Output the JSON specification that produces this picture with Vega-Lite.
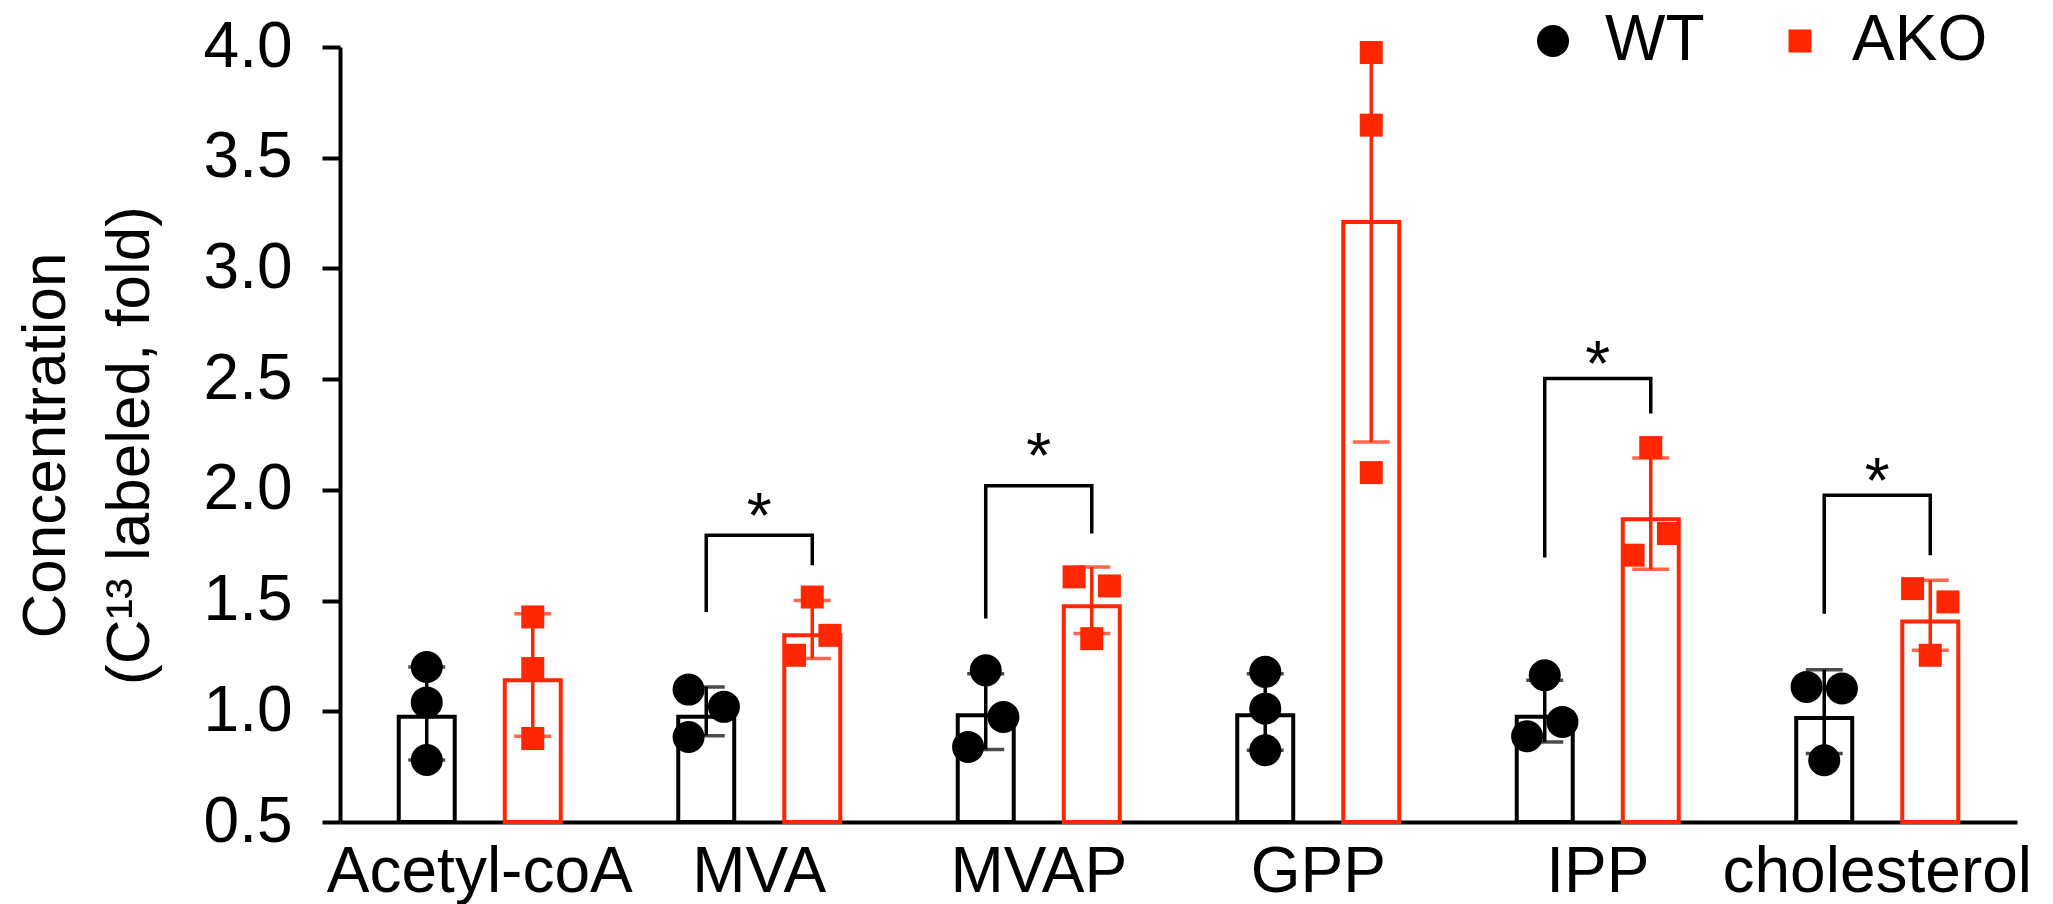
{
  "$schema": "https://vega.github.io/schema/vega-lite/v6.json",
  "autosize": {"type": "none"},
  "padding": {"left": 340, "top": 47, "right": 36, "bottom": 82},
  "width": 1677,
  "height": 775,
  "background": "white",
  "config": {
    "view": {"stroke": null},
    "font": "Liberation Sans",
    "axis": {"domainColor": "black", "tickColor": "black", "labelColor": "black", "titleColor": "black", "grid": false, "labelFont": "Liberation Sans", "titleFont": "Liberation Sans", "titleFontWeight": "normal"}
  },
  "datasets": {
    "bars": [
      {"cat": "Acetyl-coA", "grp": "WT", "mean": 0.975, "lo": 0.78, "hi": 1.2},
      {"cat": "Acetyl-coA", "grp": "AKO", "mean": 1.14, "lo": 0.887, "hi": 1.44},
      {"cat": "MVA", "grp": "WT", "mean": 0.975, "lo": 0.89, "hi": 1.11},
      {"cat": "MVA", "grp": "AKO", "mean": 1.343, "lo": 1.238, "hi": 1.5},
      {"cat": "MVAP", "grp": "WT", "mean": 0.982, "lo": 0.827, "hi": 1.17},
      {"cat": "MVAP", "grp": "AKO", "mean": 1.474, "lo": 1.351, "hi": 1.652},
      {"cat": "GPP", "grp": "WT", "mean": 0.982, "lo": 0.824, "hi": 1.17},
      {"cat": "GPP", "grp": "AKO", "mean": 3.21, "lo": 2.216, "hi": 4.21},
      {"cat": "IPP", "grp": "WT", "mean": 0.975, "lo": 0.861, "hi": 1.14},
      {"cat": "IPP", "grp": "AKO", "mean": 1.867, "lo": 1.641, "hi": 2.144},
      {"cat": "cholesterol", "grp": "WT", "mean": 0.97, "lo": 0.809, "hi": 1.188},
      {"cat": "cholesterol", "grp": "AKO", "mean": 1.406, "lo": 1.276, "hi": 1.592}
    ],
    "pts": [
      {"cat": "Acetyl-coA", "grp": "WT", "slot": "WT-C", "v": 1.2},
      {"cat": "Acetyl-coA", "grp": "WT", "slot": "WT-C", "v": 1.04},
      {"cat": "Acetyl-coA", "grp": "WT", "slot": "WT-C", "v": 0.78},
      {"cat": "Acetyl-coA", "grp": "AKO", "slot": "AKO-C", "v": 1.426},
      {"cat": "Acetyl-coA", "grp": "AKO", "slot": "AKO-C", "v": 1.193},
      {"cat": "Acetyl-coA", "grp": "AKO", "slot": "AKO-C", "v": 0.877},
      {"cat": "MVA", "grp": "WT", "slot": "WT-L", "v": 1.098},
      {"cat": "MVA", "grp": "WT", "slot": "WT-R", "v": 1.02},
      {"cat": "MVA", "grp": "WT", "slot": "WT-L", "v": 0.884},
      {"cat": "MVA", "grp": "AKO", "slot": "AKO-C", "v": 1.516},
      {"cat": "MVA", "grp": "AKO", "slot": "AKO-R", "v": 1.343},
      {"cat": "MVA", "grp": "AKO", "slot": "AKO-L", "v": 1.253},
      {"cat": "MVAP", "grp": "WT", "slot": "WT-C", "v": 1.185},
      {"cat": "MVAP", "grp": "WT", "slot": "WT-R", "v": 0.974},
      {"cat": "MVAP", "grp": "WT", "slot": "WT-L", "v": 0.839},
      {"cat": "MVAP", "grp": "AKO", "slot": "AKO-L", "v": 1.607},
      {"cat": "MVAP", "grp": "AKO", "slot": "AKO-R", "v": 1.566},
      {"cat": "MVAP", "grp": "AKO", "slot": "AKO-C", "v": 1.328},
      {"cat": "GPP", "grp": "WT", "slot": "WT-C", "v": 1.178},
      {"cat": "GPP", "grp": "WT", "slot": "WT-C", "v": 1.012},
      {"cat": "GPP", "grp": "WT", "slot": "WT-C", "v": 0.824},
      {"cat": "GPP", "grp": "AKO", "slot": "AKO-C", "v": 3.975},
      {"cat": "GPP", "grp": "AKO", "slot": "AKO-C", "v": 3.647},
      {"cat": "GPP", "grp": "AKO", "slot": "AKO-C", "v": 2.078},
      {"cat": "IPP", "grp": "WT", "slot": "WT-C", "v": 1.163},
      {"cat": "IPP", "grp": "WT", "slot": "WT-R", "v": 0.952},
      {"cat": "IPP", "grp": "WT", "slot": "WT-L", "v": 0.887},
      {"cat": "IPP", "grp": "AKO", "slot": "AKO-C", "v": 2.191},
      {"cat": "IPP", "grp": "AKO", "slot": "AKO-R", "v": 1.803},
      {"cat": "IPP", "grp": "AKO", "slot": "AKO-L", "v": 1.705},
      {"cat": "cholesterol", "grp": "WT", "slot": "WT-L", "v": 1.11},
      {"cat": "cholesterol", "grp": "WT", "slot": "WT-R", "v": 1.103},
      {"cat": "cholesterol", "grp": "WT", "slot": "WT-C", "v": 0.779},
      {"cat": "cholesterol", "grp": "AKO", "slot": "AKO-L", "v": 1.554},
      {"cat": "cholesterol", "grp": "AKO", "slot": "AKO-R", "v": 1.494},
      {"cat": "cholesterol", "grp": "AKO", "slot": "AKO-C", "v": 1.253}
    ],
    "brk": [
      {"cat": "MVA", "grp": "WT", "k": 1, "v": 1.448},
      {"cat": "MVA", "grp": "WT", "k": 2, "v": 1.795},
      {"cat": "MVA", "grp": "AKO", "k": 3, "v": 1.795},
      {"cat": "MVA", "grp": "AKO", "k": 4, "v": 1.659},
      {"cat": "MVAP", "grp": "WT", "k": 1, "v": 1.419},
      {"cat": "MVAP", "grp": "WT", "k": 2, "v": 2.018},
      {"cat": "MVAP", "grp": "AKO", "k": 3, "v": 2.018},
      {"cat": "MVAP", "grp": "AKO", "k": 4, "v": 1.803},
      {"cat": "IPP", "grp": "WT", "k": 1, "v": 1.694},
      {"cat": "IPP", "grp": "WT", "k": 2, "v": 2.503},
      {"cat": "IPP", "grp": "AKO", "k": 3, "v": 2.503},
      {"cat": "IPP", "grp": "AKO", "k": 4, "v": 2.345},
      {"cat": "cholesterol", "grp": "WT", "k": 1, "v": 1.441},
      {"cat": "cholesterol", "grp": "WT", "k": 2, "v": 1.976},
      {"cat": "cholesterol", "grp": "AKO", "k": 3, "v": 1.976},
      {"cat": "cholesterol", "grp": "AKO", "k": 4, "v": 1.705}
    ],
    "stars": [
      {"cat": "MVA", "v": 1.944, "label": "*"},
      {"cat": "MVAP", "v": 2.216, "label": "*"},
      {"cat": "IPP", "v": 2.63, "label": "*"},
      {"cat": "cholesterol", "v": 2.103, "label": "*"}
    ]
  },
  "encoding": {
    "x": {
      "field": "cat", "type": "nominal",
      "sort": ["Acetyl-coA", "MVA", "MVAP", "GPP", "IPP", "cholesterol"],
      "scale": {"paddingInner": 0, "paddingOuter": 0},
      "axis": {"title": null, "labelAngle": 0, "ticks": false, "tickSize": 0, "domainWidth": 4, "labelFontSize": 64, "labelPadding": 18, "labelBaseline": "top", "labelLimit": 1000}
    }
  },
  "layer": [
    {
      "layer": [
        {
          "data": {"name": "bars"},
          "mark": {"type": "bar", "fill": "white", "strokeWidth": 4},
          "encoding": {
            "xOffset": {"field": "grp", "type": "nominal", "sort": ["WT", "AKO"], "scale": {"paddingInner": 0.472, "paddingOuter": 0.554}},
            "y": {"field": "mean", "type": "quantitative", "scale": {"domain": [0.5, 4.0], "zero": false, "nice": false},
              "axis": {"title": ["Concentration", "(C¹³ labeled, fold)"], "titleFontSize": 62, "titleLineHeight": 84, "titlePadding": 42, "titleY": 398, "values": [0.5, 1.0, 1.5, 2.0, 2.5, 3.0, 3.5, 4.0], "format": ".1f", "labelFontSize": 64, "labelPadding": 30, "tickSize": 18, "tickWidth": 4, "domainWidth": 4}},
            "y2": {"datum": 0.5},
            "stroke": {"field": "grp", "type": "nominal", "scale": {"domain": ["AKO", "WT"], "range": ["#ff2600", "#000000"]}, "legend": null}
          }
        },
        {
          "data": {"name": "bars"},
          "mark": {"type": "rule", "strokeWidth": 3.5, "clip": true},
          "encoding": {
            "xOffset": {"field": "grp", "type": "nominal", "sort": ["WT", "AKO"]},
            "y": {"field": "lo", "type": "quantitative"},
            "y2": {"field": "hi"},
            "stroke": {"field": "grp", "type": "nominal", "legend": null}
          }
        },
        {
          "data": {"name": "bars"},
          "mark": {"type": "tick", "orient": "horizontal", "size": 37, "thickness": 3.5, "clip": true},
          "encoding": {
            "xOffset": {"field": "grp", "type": "nominal", "sort": ["WT", "AKO"]},
            "y": {"field": "lo", "type": "quantitative"},
            "fill": {"field": "grp", "type": "nominal", "scale": {"domain": ["AKO", "WT"], "range": ["#ff2600", "#000000"]}, "legend": null}
          }
        },
        {
          "data": {"name": "bars"},
          "mark": {"type": "tick", "orient": "horizontal", "size": 37, "thickness": 3.5, "clip": true},
          "encoding": {
            "xOffset": {"field": "grp", "type": "nominal", "sort": ["WT", "AKO"]},
            "y": {"field": "hi", "type": "quantitative"},
            "fill": {"field": "grp", "type": "nominal", "legend": null}
          }
        },
        {
          "data": {"name": "brk"},
          "mark": {"type": "line", "color": "black", "strokeWidth": 3.5, "strokeJoin": "miter"},
          "encoding": {
            "xOffset": {"field": "grp", "type": "nominal", "sort": ["WT", "AKO"]},
            "y": {"field": "v", "type": "quantitative"},
            "detail": {"field": "cat"},
            "order": {"field": "k"}
          }
        }
      ]
    },
    {
      "data": {"name": "pts"},
      "mark": {"type": "point", "filled": true, "opacity": 1, "strokeWidth": 0},
      "encoding": {
        "xOffset": {"field": "slot", "type": "nominal", "scale": {"type": "point", "domain": ["p0", "p1", "p2", "WT-L", "WT-C", "WT-R", "g1", "g2", "g3", "AKO-L", "AKO-C", "AKO-R", "q0", "q1", "q2"], "padding": 0.91}},
        "y": {"field": "v", "type": "quantitative"},
        "color": {"field": "grp", "type": "nominal", "scale": {"domain": ["WT", "AKO"], "range": ["#000000", "#ff2600"]},
          "legend": {"title": null, "orient": "none", "direction": "horizontal", "legendX": 1181, "legendY": -38, "labelFontSize": 64, "labelFont": "Liberation Sans", "labelColor": "black", "labelOffset": 20, "columnPadding": 63, "padding": 0, "symbolStrokeWidth": 0}},
        "shape": {"field": "grp", "type": "nominal", "scale": {"domain": ["WT", "AKO"], "range": ["circle", "square"]}},
        "size": {"field": "grp", "type": "nominal", "scale": {"domain": ["WT", "AKO"], "range": [1024, 529]}}
      }
    },
    {
      "data": {"name": "stars"},
      "mark": {"type": "text", "fontSize": 64, "font": "Liberation Sans", "color": "black", "baseline": "middle", "dy": 17},
      "encoding": {
        "y": {"field": "v", "type": "quantitative"},
        "text": {"field": "label"}
      }
    }
  ],
  "resolve": {"scale": {"xOffset": "independent"}}
}
